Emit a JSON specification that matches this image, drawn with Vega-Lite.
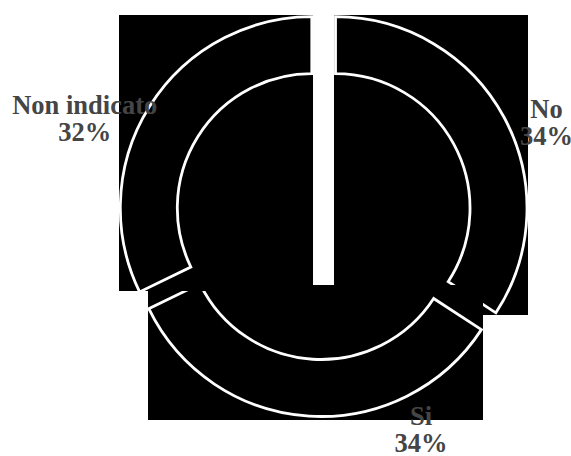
{
  "$schema": "https://vega.github.io/schema/vega-lite/v6.json",
  "width": 571,
  "height": 456,
  "padding": 0,
  "autosize": {"type": "none"},
  "background": "white",
  "config": {"view": {"stroke": null}},
  "data": {
    "values": [
      {"cat": "No", "pct": 34.2, "ord": 1, "cx": 6.53, "cy": 4.07, "bx0": 5.74, "bx1": 107.05, "by0": -51.7, "by1": 104.96, "lx": 116.71, "ly": 51.33, "label": "No\n34%"},
      {"cat": "Si", "pct": 33.6, "ord": 2, "cx": -1.04, "cy": -4.7, "bx0": -91.38, "bx1": 83.55, "by0": -106.53, "by1": -36.03, "lx": 51.17, "ly": -109.14, "label": "Si\n34%"},
      {"cat": "Non indicato", "pct": 32.2, "ord": 3, "cx": -5.85, "cy": 4.07, "bx0": -106.53, "bx1": -5.22, "by0": -39.16, "by1": 104.96, "lx": -124.44, "ly": 53.11, "label": "Non indicato\n32%"}
    ]
  },
  "transform": [
    {"stack": "pct", "groupby": [], "sort": [{"field": "ord"}], "as": ["t0", "t1"]}
  ],
  "layer": [
    {
      "transform": [{"filter": "datum.cat === 'No'"}],
      "mark": {"type": "rect", "fill": "black"},
      "encoding": {
        "x": {"field": "bx0", "type": "quantitative", "scale": {"domain": [-168.67, 129.5], "nice": false, "zero": false}, "axis": null},
        "x2": {"field": "bx1"},
        "y": {"field": "by0", "type": "quantitative", "scale": {"domain": [-125.33, 112.79], "nice": false, "zero": false}, "axis": null},
        "y2": {"field": "by1"}
      }
    },
    {
      "transform": [{"filter": "datum.cat === 'No'"}],
      "mark": {"type": "arc", "radius": 191.5, "radius2": 134.5, "fill": "black", "stroke": "white", "strokeWidth": 2.8},
      "encoding": {
        "theta": {"field": "t0", "type": "quantitative", "scale": {"domain": [0, 100]}},
        "theta2": {"field": "t1"},
        "x": {"field": "cx", "type": "quantitative", "scale": {"domain": [-168.67, 129.5], "nice": false, "zero": false}, "axis": null},
        "y": {"field": "cy", "type": "quantitative", "scale": {"domain": [-125.33, 112.79], "nice": false, "zero": false}, "axis": null}
      }
    },
    {
      "transform": [{"filter": "datum.cat === 'Si'"}],
      "mark": {"type": "rect", "fill": "black"},
      "encoding": {
        "x": {"field": "bx0", "type": "quantitative", "scale": {"domain": [-168.67, 129.5], "nice": false, "zero": false}, "axis": null},
        "x2": {"field": "bx1"},
        "y": {"field": "by0", "type": "quantitative", "scale": {"domain": [-125.33, 112.79], "nice": false, "zero": false}, "axis": null},
        "y2": {"field": "by1"}
      }
    },
    {
      "transform": [{"filter": "datum.cat === 'Si'"}],
      "mark": {"type": "arc", "radius": 191.5, "radius2": 134.5, "fill": "black", "stroke": "white", "strokeWidth": 2.8},
      "encoding": {
        "theta": {"field": "t0", "type": "quantitative", "scale": {"domain": [0, 100]}},
        "theta2": {"field": "t1"},
        "x": {"field": "cx", "type": "quantitative", "scale": {"domain": [-168.67, 129.5], "nice": false, "zero": false}, "axis": null},
        "y": {"field": "cy", "type": "quantitative", "scale": {"domain": [-125.33, 112.79], "nice": false, "zero": false}, "axis": null}
      }
    },
    {
      "transform": [{"filter": "datum.cat === 'Non indicato'"}],
      "mark": {"type": "rect", "fill": "black"},
      "encoding": {
        "x": {"field": "bx0", "type": "quantitative", "scale": {"domain": [-168.67, 129.5], "nice": false, "zero": false}, "axis": null},
        "x2": {"field": "bx1"},
        "y": {"field": "by0", "type": "quantitative", "scale": {"domain": [-125.33, 112.79], "nice": false, "zero": false}, "axis": null},
        "y2": {"field": "by1"}
      }
    },
    {
      "transform": [{"filter": "datum.cat === 'Non indicato'"}],
      "mark": {"type": "arc", "radius": 191.5, "radius2": 134.5, "fill": "black", "stroke": "white", "strokeWidth": 2.8},
      "encoding": {
        "theta": {"field": "t0", "type": "quantitative", "scale": {"domain": [0, 100]}},
        "theta2": {"field": "t1"},
        "x": {"field": "cx", "type": "quantitative", "scale": {"domain": [-168.67, 129.5], "nice": false, "zero": false}, "axis": null},
        "y": {"field": "cy", "type": "quantitative", "scale": {"domain": [-125.33, 112.79], "nice": false, "zero": false}, "axis": null}
      }
    },
    {
      "mark": {"type": "text", "lineBreak": "\n", "align": "center", "baseline": "alphabetic", "font": "Liberation Serif", "fontSize": 26.5, "fontWeight": "bold", "fill": "#454545", "lineHeight": 27},
      "encoding": {
        "x": {"field": "lx", "type": "quantitative", "scale": {"domain": [-168.67, 129.5], "nice": false, "zero": false}, "axis": null},
        "y": {"field": "ly", "type": "quantitative", "scale": {"domain": [-125.33, 112.79], "nice": false, "zero": false}, "axis": null},
        "text": {"field": "label"}
      }
    }
  ]
}
